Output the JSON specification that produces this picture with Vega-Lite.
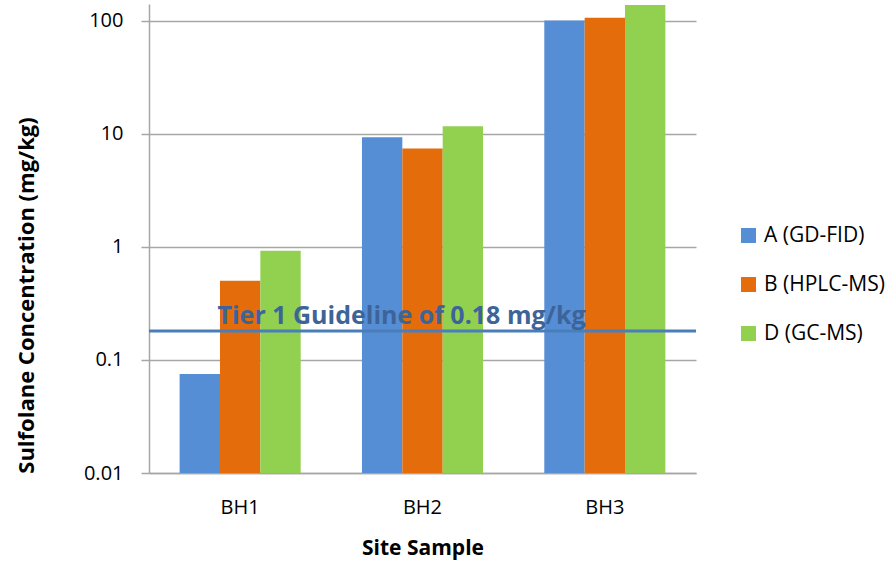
{
  "$schema": "https://vega.github.io/schema/vega-lite/v6.json",
  "width": 547,
  "height": 469,
  "autosize": "none",
  "padding": {"left": 149, "top": 4, "right": 199, "bottom": 90},
  "background": "white",
  "config": {
    "font": "Open Sans",
    "view": {"stroke": null},
    "axis": {"labelFont": "Open Sans", "titleFont": "Open Sans", "labelColor": "#000000", "titleColor": "#000000"},
    "legend": {"labelFont": "Open Sans", "labelColor": "#000000"}
  },
  "datasets": {
    "samples": [
      {"site": "BH1", "method": "A (GD-FID)", "conc": 0.075},
      {"site": "BH1", "method": "B (HPLC-MS)", "conc": 0.5},
      {"site": "BH1", "method": "D (GC-MS)", "conc": 0.92},
      {"site": "BH2", "method": "A (GD-FID)", "conc": 9.3},
      {"site": "BH2", "method": "B (HPLC-MS)", "conc": 7.4},
      {"site": "BH2", "method": "D (GC-MS)", "conc": 11.6},
      {"site": "BH3", "method": "A (GD-FID)", "conc": 100},
      {"site": "BH3", "method": "B (HPLC-MS)", "conc": 106},
      {"site": "BH3", "method": "D (GC-MS)", "conc": 137}
    ],
    "guideline": [
      {"limit": 0.18, "label": "Tier 1 Guideline of 0.18 mg/kg"}
    ]
  },
  "layer": [
    {
      "data": {"name": "samples"},
      "mark": {"type": "bar"},
      "encoding": {
        "x": {
          "field": "site",
          "type": "nominal",
          "scale": {"paddingInner": 0.336, "paddingOuter": 0.168},
          "axis": {
            "title": "Site Sample",
            "labelAngle": 0,
            "labelFontSize": 20,
            "labelPadding": 24,
            "ticks": false,
            "domainColor": "#a6a6a6",
            "domainWidth": 1.5,
            "titleFontSize": 21,
            "titleFontWeight": "bold",
            "titlePadding": 20
          }
        },
        "xOffset": {"field": "method", "type": "nominal"},
        "y": {
          "field": "conc",
          "type": "quantitative",
          "stack": null,
          "scale": {"type": "log", "domain": [0.01, 140], "nice": false},
          "axis": {
            "title": "Sulfolane Concentration (mg/kg)",
            "values": [0.01, 0.1, 1, 10, 100],
            "format": "~g",
            "labelFontSize": 20,
            "labelPadding": 18,
            "tickSize": 8,
            "tickColor": "#a6a6a6",
            "tickWidth": 1.5,
            "domainColor": "#a6a6a6",
            "domainWidth": 1.5,
            "grid": true,
            "gridColor": "#a6a6a6",
            "gridWidth": 1.5,
            "titleFontSize": 22,
            "titleFontWeight": "bold",
            "titleX": -123,
            "titleY": 291,
            "titleAlign": "center",
            "titleBaseline": "middle",
            "titleAngle": -90
          }
        },
        "y2": {"datum": 0.01},
        "color": {
          "field": "method",
          "type": "nominal",
          "scale": {
            "domain": ["A (GD-FID)", "B (HPLC-MS)", "D (GC-MS)"],
            "range": ["#558ED5", "#E46C0A", "#92D050"]
          },
          "legend": {
            "title": null,
            "orient": "none",
            "legendX": 589,
            "legendY": 221,
            "padding": 0,
            "symbolType": "square",
            "symbolSize": 225,
            "symbolStrokeWidth": 0,
            "symbolOffset": 0,
            "labelFontSize": 21,
            "labelOffset": 5,
            "rowPadding": 27
          }
        }
      }
    },
    {
      "data": {"name": "guideline"},
      "mark": {"type": "rule", "color": "#4A7EBB", "strokeWidth": 3},
      "encoding": {
        "y": {"field": "limit", "type": "quantitative"}
      }
    },
    {
      "data": {"name": "guideline"},
      "mark": {
        "type": "text",
        "fontSize": 25,
        "fontWeight": "bold",
        "color": "#3D6499",
        "align": "center",
        "baseline": "bottom",
        "dx": -21,
        "dy": -2
      },
      "encoding": {
        "x": {"datum": "BH2"},
        "y": {"field": "limit", "type": "quantitative"},
        "text": {"field": "label"}
      }
    }
  ]
}
